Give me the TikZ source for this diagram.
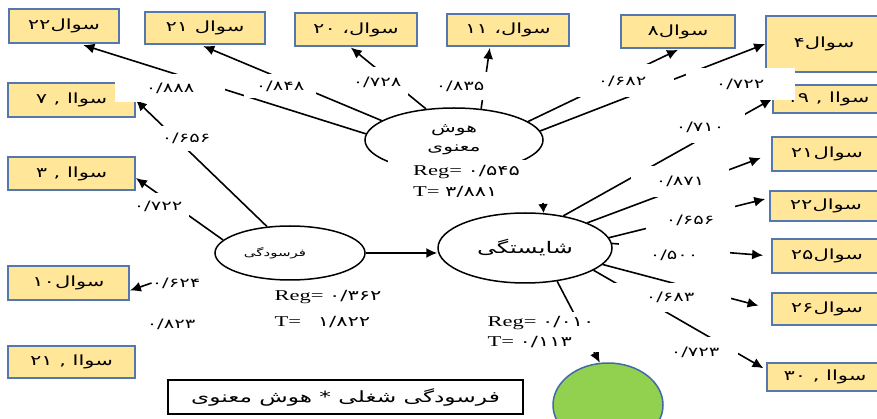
\documentclass[tikz,border=0pt]{standalone}
\usepackage{graphicx}
\usepackage{fontspec}
\setmainfont{Liberation Serif}
\newfontfamily\fafont[Script=Arabic]{DejaVu Sans}
\TeXXeTstate=1
\usetikzlibrary{shapes.geometric, arrows.meta}
\definecolor{qfill}{RGB}{255,230,153}
\definecolor{qedge}{RGB}{84,120,173}
\definecolor{ggreen}{RGB}{146,208,80}
\definecolor{gedge}{RGB}{65,105,165}
\newcommand{\sx}[1]{\scalebox{1.5}[1]{#1}}
\newcommand{\fa}[1]{\sx{\fafont\beginR #1\endR}}
\newcommand{\fnum}[1]{\sx{\fafont #1}}
\newcommand{\rg}[2]{\sx{#1 {\fafont\fontsize{14}{14}\selectfont #2}}}
\tikzstyle{qbox} = [draw=qedge, fill=qfill, line width=1.8pt, inner sep=0pt, font=\fontsize{14}{16}\selectfont]
\tikzstyle{lat} = [ellipse, draw, line width=1.5pt, inner sep=0pt]
\tikzstyle{line} = [draw, line width=1.6pt]
\tikzstyle{arr} = [line, -{Latex[length=11pt, width=10pt]}]
\tikzstyle{wlab} = [fill=white, inner sep=0pt, font=\fontsize{13}{15}\selectfont]
\tikzstyle{reg} = [fill=white, inner sep=0pt, align=left, font=\fontsize{15}{21}\selectfont]

\begin{document}
\begin{tikzpicture}[x=1pt, y=-1pt]
	\useasboundingbox (0,0) rectangle (877,419);
	\node [qbox, minimum width=110, minimum height=34] (q22a) at (64,26) {\fa{سوال۲۲}};
	\node [qbox, minimum width=120, minimum height=32] (q21a) at (205,28) {\fa{سوال ۲۱}};
	\node [qbox, minimum width=122, minimum height=33] (q20) at (356,29.5) {\fa{سوال، ۲۰}};
	\node [qbox, minimum width=122, minimum height=32] (q11) at (508,30) {\fa{سوال، ۱۱}};
	\node [qbox, minimum width=114, minimum height=33] (q8) at (678,31.5) {\fa{سوال۸}};
	\node [qbox, minimum width=116, minimum height=56] (q4) at (824,44) {\fa{سوال۴}};
	\node [qbox, minimum width=110, minimum height=28] (q19) at (828,99) {\fa{سواا , ۱۹}};
	\node [qbox, minimum width=110, minimum height=34] (q21b) at (827,154) {\fa{سوال۲۱}};
	\node [qbox, minimum width=112, minimum height=30] (q22b) at (826,206) {\fa{سوال۲۲}};
	\node [qbox, minimum width=110, minimum height=34] (q25) at (827,256) {\fa{سوال۲۵}};
	\node [qbox, minimum width=110, minimum height=32] (q26) at (827,309) {\fa{سوال۲۶}};
	\node [qbox, minimum width=116, minimum height=28] (q30) at (825,377) {\fa{سواا , ۳۰}};
	\node [qbox, minimum width=127, minimum height=34] (q7) at (71.5,100) {\fa{سواا , ۷}};
	\node [qbox, minimum width=127, minimum height=33] (q3) at (71.5,173.5) {\fa{سواا , ۳}};
	\node [qbox, minimum width=121, minimum height=34] (q10) at (68.5,283) {\fa{سوال۱۰}};
	\node [qbox, minimum width=127, minimum height=32] (q21c) at (71.5,362) {\fa{سواا , ۲۱}};

	\node [lat, minimum width=178, minimum height=64, align=center, font=\fontsize{13.5}{19}\selectfont] (hm) at (454,140) {\fa{هوش}\\\fa{معنوی}};
	\node [lat, minimum width=174, minimum height=70, font=\fontsize{16}{18}\selectfont] (sh) at (525,248) {\fa{شایستگی}};
	\node [lat, minimum width=150, minimum height=54, label={[xshift=-15pt, font=\fontsize{10}{12}\selectfont]center:{\fa{فرسودگی}}}] (fr) at (290,253) {};
	\node [lat, draw=gedge, fill=ggreen, minimum width=110, minimum height=84] (gr) at (608,405) {};
	\node [draw, line width=1.4pt, minimum width=355, minimum height=34, font=\fontsize{15.5}{17}\selectfont] (cap) at (345.5,397) {\fa{فرسودگی شغلی * هوش معنوی}};
	\coordinate (hmsh) at (543,203);

	\path [arr, shorten >=4pt] (hm.176) -- (q22a.-49);
	\path [arr, shorten >=3pt] (hm.165) -- (q21a.-105);
	\path [arr, shorten >=1pt] (hm.132) -- (q20.-109);
	\path [arr, shorten >=1pt] (hm.49) -- (q11.-137);
	\path [arr, shorten >=2pt] (hm.14) -- (q8.-84);
	\path [arr] (hm.6) -- (q4.west);
	\path [arr] (sh.40) -- (q19.west);
	\path [arr, shorten >=11pt] (sh.22.6) -- (q21b.west);
	\path [arr, shorten >=4pt] (sh.7.4) -- (q22b.172);
	\path [arr, shorten >=8pt] (sh.3) -- (q25.west);
	\path [arr, shorten >=13pt] (sh.-12.4) -- (q26.west);
	\path [arr, shorten >=3pt] (sh.-18.7) -- (q30.173);
	\path [arr] (fr.131) -- (q7.east);
	\path [arr] (fr.169) -- (q3.-4);
	\path [arr] (fr.east) -- (fr.east -| sh.west);
	\path [arr] (sh.-46) -- (gr.101);
	\path [arr, -{Latex[length=9pt, width=10pt]}] (hmsh) -- (sh.62);

	\node [wlab, minimum width=110, minimum height=28] (l888) at (170,88) {\fnum{۰/۸۸۸}};
	\node [wlab, minimum width=72, minimum height=24] (l848) at (280,86) {\fnum{۰/۸۴۸}};
	\node [wlab, minimum width=62, minimum height=30] (l728) at (377,82) {\fnum{۰/۷۲۸}};
	\node [wlab, minimum width=60, minimum height=28] (l835) at (460,86) {\fnum{۰/۸۳۵}};
	\node [wlab, minimum width=104, minimum height=33] (l682) at (622,81) {\fnum{۰/۶۸۲}};
	\node [wlab, minimum width=109, minimum height=32] (l722a) at (740,84) {\fnum{۰/۷۲۲}};
	\node [wlab, minimum width=60, minimum height=25] (l656a) at (186,138.5) {\fnum{۰/۶۵۶}};
	\node [wlab, minimum width=62, minimum height=27] (l722b) at (158,206.5) {\fnum{۰/۷۲۲}};
	\node [wlab] (l624) at (176,283) {\fnum{۰/۶۲۴}};
	\node [wlab] (l823) at (171,324) {\fnum{۰/۸۲۳}};
	\node [wlab, minimum width=90, minimum height=32] (l710) at (700,127) {\fnum{۰/۷۱۰}};
	\node [wlab, minimum width=98, minimum height=31] (l871) at (680,181.5) {\fnum{۰/۸۷۱}};
	\node [wlab, minimum width=89, minimum height=30] (l656b) at (690,220) {\fnum{۰/۶۵۶}};
	\node [wlab, minimum width=111, minimum height=26] (l500) at (674,255) {\fnum{۰/۵۰۰}};
	\node [wlab, minimum width=122, minimum height=29] (l683) at (670,297.5) {\fnum{۰/۶۸۳}};
	\node [wlab, minimum width=85, minimum height=31] (l723) at (695,352.5) {\fnum{۰/۷۲۳}};
	\path [arr] (l624.west) -- (q10.-7);

	\begin{scope}
		\clip (380,150) rectangle (560,197);
		\node [reg, minimum width=157, minimum height=44] (rga) at (466.5,182) {\rg{Reg=}{۰/۵۴۵}\\\rg{T=}{۳/۸۸۱}};
	\end{scope}
	\node [reg, font=\fontsize{15}{26}\selectfont] (rgb) at (328,309) {\rg{Reg=}{۰/۳۶۲}\\\rg{T=\ \ }{۱/۸۲۲}};
	\node [reg, minimum width=118, minimum height=40, font=\fontsize{15}{20}\selectfont] (rgc) at (541,332) {\rg{Reg=}{۰/۰۱۰}\\\rg{T=}{۰/۱۱۳}};
\end{tikzpicture}
\end{document}
